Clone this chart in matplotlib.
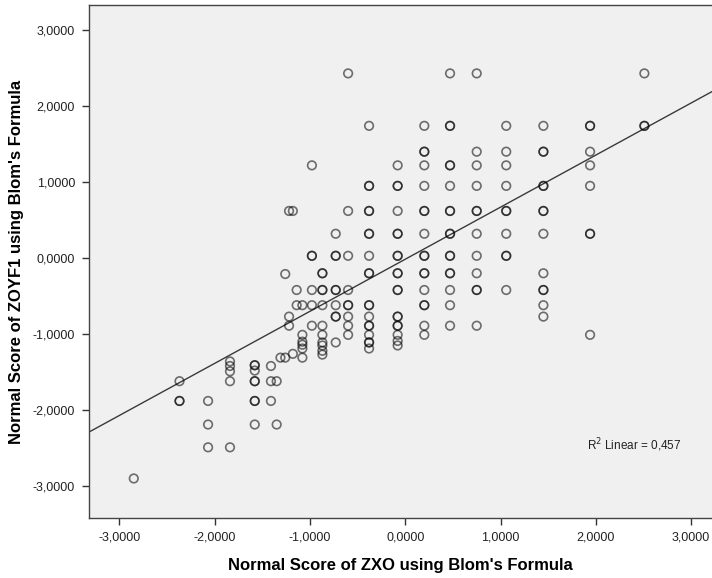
import numpy as np
import matplotlib
matplotlib.use("Agg")
import matplotlib.pyplot as plt
from matplotlib.ticker import FuncFormatter

plt.rcParams['font.family'] = ['Liberation Sans', 'DejaVu Sans']

# ---- data: (x normal score, y normal score) ----
x_scores = [
    2.51, 2.51, 2.51,
    1.94, 1.94, 1.94, 1.94, 1.94, 1.94, 1.94, 1.94,
    1.45, 1.45, 1.45, 1.45, 1.45, 1.45, 1.45, 1.45, 1.45, 1.45, 1.45, 1.45, 1.45,
    1.06, 1.06, 1.06, 1.06, 1.06, 1.06, 1.06, 1.06, 1.06, 1.06,
    0.75, 0.75, 0.75, 0.75, 0.75, 0.75, 0.75, 0.75, 0.75, 0.75, 0.75, 0.75,
    0.47, 0.47, 0.47, 0.47, 0.47, 0.47, 0.47, 0.47, 0.47, 0.47, 0.47, 0.47, 0.47, 0.47, 0.47, 0.47, 0.47,
    0.20, 0.20, 0.20, 0.20, 0.20, 0.20, 0.20, 0.20, 0.20, 0.20, 0.20, 0.20, 0.20, 0.20, 0.20, 0.20, 0.20,
    -0.08, -0.08, -0.08, -0.08, -0.08, -0.08, -0.08, -0.08, -0.08, -0.08, -0.08, -0.08, -0.08, -0.08, -0.08, -0.08, -0.08, -0.08, -0.08,
    -0.38, -0.38, -0.38, -0.38, -0.38, -0.38, -0.38, -0.38, -0.38, -0.38, -0.38, -0.38, -0.38, -0.38, -0.38, -0.38, -0.38, -0.38, -0.38,
    -0.60, -0.60, -0.60, -0.60, -0.60, -0.60, -0.60, -0.60, -0.60,
    -0.73, -0.73, -0.73, -0.73, -0.73, -0.73, -0.73, -0.73, -0.73,
    -0.87, -0.87, -0.87, -0.87, -0.87, -0.87, -0.87, -0.87, -0.87, -0.87, -0.87,
    -0.98, -0.98, -0.98, -0.98, -0.98, -0.98,
    -1.08, -1.08, -1.08, -1.08, -1.08, -1.08,
    -1.14, -1.14,
    -1.18, -1.18,
    -1.22, -1.22, -1.22,
    -1.26, -1.26,
    -1.31,
    -1.35, -1.35,
    -1.41, -1.41, -1.41,
    -1.58, -1.58, -1.58, -1.58, -1.58, -1.58, -1.58, -1.58,
    -1.84, -1.84, -1.84, -1.84, -1.84,
    -2.07, -2.07, -2.07,
    -2.37, -2.37, -2.37,
    -2.85,
]
y_scores = [
    2.43, 1.74, 1.74,
    1.74, 1.74, 1.40, 1.22, 0.95, 0.32, 0.32, -1.01,
    1.74, 1.40, 1.40, 0.95, 0.95, 0.62, 0.62, 0.32, -0.20, -0.42, -0.42, -0.62, -0.77,
    1.74, 1.40, 1.22, 0.95, 0.62, 0.62, 0.32, 0.03, 0.03, -0.42,
    2.43, 1.40, 1.22, 0.95, 0.62, 0.62, 0.32, 0.03, -0.20, -0.42, -0.42, -0.89,
    2.43, 1.74, 1.74, 1.22, 1.22, 0.95, 0.62, 0.62, 0.32, 0.32, 0.03, 0.03, -0.20, -0.20, -0.42, -0.62, -0.89,
    1.74, 1.40, 1.40, 1.22, 0.95, 0.62, 0.62, 0.32, 0.03, 0.03, -0.20, -0.20, -0.42, -0.62, -0.62, -0.89, -1.01,
    1.22, 0.95, 0.95, 0.62, 0.32, 0.32, 0.03, 0.03, -0.20, -0.20, -0.42, -0.42, -0.77, -0.77, -0.89, -0.89, -1.01, -1.09, -1.15,
    1.74, 0.95, 0.95, 0.62, 0.62, 0.32, 0.32, 0.03, -0.20, -0.20, -0.62, -0.62, -0.77, -0.89, -0.89, -1.01, -1.11, -1.11, -1.19,
    2.43, 0.62, 0.03, -0.42, -0.62, -0.62, -0.77, -0.89, -1.01,
    0.32, 0.03, 0.03, -0.42, -0.42, -0.62, -0.77, -0.77, -1.11,
    -0.20, -0.20, -0.42, -0.42, -0.62, -0.89, -1.01, -1.11, -1.15, -1.22, -1.27,
    1.22, 0.03, 0.03, -0.42, -0.62, -0.89,
    -0.62, -1.01, -1.10, -1.14, -1.19, -1.31,
    -0.42, -0.62,
    0.62, -1.26,
    0.62, -0.77, -0.89,
    -0.21, -1.31,
    -1.31,
    -1.62, -2.19,
    -1.42, -1.62, -1.88,
    -1.41, -1.41, -1.48, -1.62, -1.62, -1.88, -1.88, -2.19,
    -1.36, -1.42, -1.49, -1.62, -2.49,
    -1.88, -2.19, -2.49,
    -1.62, -1.88, -1.88,
    -2.90,
]

x_ticks = [-3, -2, -1, 0, 1, 2, 3]
y_ticks = [-3, -2, -1, 0, 1, 2, 3]
fit_intercept = -0.015
fit_slope = 0.685
r2_text = "R$^2$ Linear = 0,457"
x_label = "Normal Score of ZXO using Blom's Formula"
y_label = "Normal Score of ZOYF1 using Blom's Formula"

W, H = 712, 578
fig = plt.figure(figsize=(W / 100, H / 100), dpi=100)
left, right, top, bottom = 89, 712, 5, 518
ax = fig.add_axes([left / W, 1 - bottom / H, (right - left) / W, (bottom - top) / H])
ax.set_facecolor('#f0f0f0')

xlim = (-3.32, 3.22)
ylim = (-3.42, 3.33)
ax.set_xlim(*xlim)
ax.set_ylim(*ylim)

ax.scatter(x_scores, y_scores, s=38, facecolors='none',
           edgecolors=(0, 0, 0, 0.55), linewidths=1.2, zorder=3)

xx = np.array(xlim)
ax.plot(xx, fit_intercept + fit_slope * xx, color='#3a3a3a', lw=1.0, zorder=2)

fmt = FuncFormatter(lambda v, p: f"{v:.4f}".replace('.', ','))
ax.set_xticks(x_ticks)
ax.set_yticks(y_ticks)
ax.xaxis.set_major_formatter(fmt)
ax.yaxis.set_major_formatter(fmt)
ax.tick_params(axis='both', direction='out', length=5, width=1, color='#333333',
               labelsize=9, labelcolor='#222222', pad=5)

for s in ['left', 'bottom', 'top']:
    ax.spines[s].set_color('#444444')
    ax.spines[s].set_linewidth(1.0)
ax.spines['right'].set_visible(False)

ax.set_xlabel(x_label, fontsize=12, fontweight='bold', labelpad=10)
ax.set_ylabel(y_label, fontsize=12, fontweight='bold', labelpad=6)

ax.text(587 / W, 1 - 445 / H, r2_text, transform=fig.transFigure,
        fontsize=8.5, color='#222222', va='center', ha='left')

fig.savefig("out.png", dpi=100)
